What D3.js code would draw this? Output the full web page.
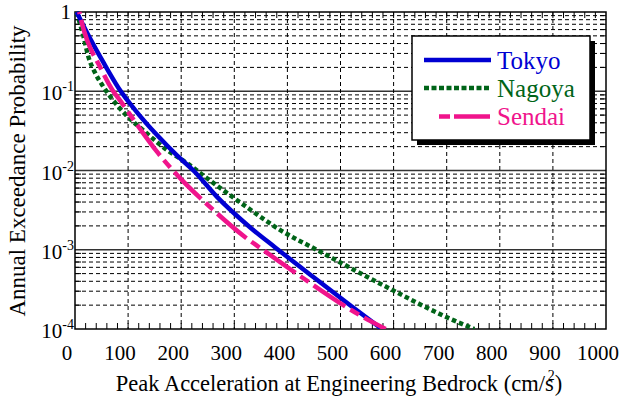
<!DOCTYPE html>
<html><head><meta charset="utf-8">
<script src="https://cdn.jsdelivr.net/npm/d3@7"></script>
<style>body{margin:0;background:#fff}svg{display:block}
text{font-family:"Liberation Serif","Times New Roman",Tinos,"DejaVu Serif","Noto Serif",serif;}</style>
</head><body>
<svg id="chart" width="621" height="405"></svg>
<script>
// ---- data ----
const xTicks = [0,100,200,300,400,500,600,700,800,900,1000];
const yExponents = [0,-1,-2,-3,-4];
const seriesNames = ["Tokyo","Nagoya","Sendai"];
const tokyoX = [3, 28, 53, 82, 116, 154, 192, 223, 267, 330, 377, 450, 520, 578];
const tokyoP = [1, 0.468, 0.234, 0.110, 0.0550, 0.0282, 0.0155, 0.01, 0.00468, 0.00191, 0.00107, 0.000447, 0.000195, 0.0001];
const nagoyaX = [3, 16, 25, 38, 53, 85, 135, 173, 207, 261, 323, 386, 455, 581, 706, 752];
const nagoyaP = [1, 0.490, 0.275, 0.170, 0.115, 0.0603, 0.0295, 0.0182, 0.0129, 0.00692, 0.00347, 0.00178, 0.001, 0.000355, 0.000135, 0.0001];
const sendaiX = [8, 13, 50, 72, 82, 122, 154, 207, 251, 320, 360, 430, 543, 585];
const sendaiP = [1, 0.724, 0.186, 0.1, 0.0813, 0.0339, 0.0174, 0.00692, 0.00363, 0.00145, 0.000933, 0.000437, 0.000141, 0.0001];
const xLabel = "Peak Acceleration at Engineering Bedrock (cm/s";
const yLabel = "Annual Exceedance Probability";

const svg = d3.select("#chart");
const L=75, R=606, T=12, B=329;
const x = d3.scaleLinear().domain([0,1000]).range([L,R]);
const y = d3.scaleLog().domain([1e-4,1]).range([B,T]);

const g = svg.append("g");
const minorY = [];
for (let e=-4; e<0; e++) for (let m=2; m<=9; m++) minorY.push(m*Math.pow(10,e));
g.selectAll(".hmin").data(minorY).enter().append("line")
 .attr("x1",L).attr("x2",R).attr("y1",d=>y(d)).attr("y2",d=>y(d))
 .attr("stroke","#000").attr("stroke-width",1).attr("stroke-dasharray","4,3");
g.selectAll(".tl").data(minorY).enter().append("line")
 .attr("x1",L).attr("x2",L+6).attr("y1",d=>y(d)).attr("y2",d=>y(d)).attr("stroke","#000");
g.selectAll(".tr").data(minorY).enter().append("line")
 .attr("x1",R-6).attr("x2",R).attr("y1",d=>y(d)).attr("y2",d=>y(d)).attr("stroke","#000");
g.selectAll(".hmaj").data(yExponents.slice(1,4)).enter().append("line")
 .attr("x1",L).attr("x2",R).attr("y1",d=>y(Math.pow(10,d))).attr("y2",d=>y(Math.pow(10,d)))
 .attr("stroke","#333").attr("stroke-width",1.3);
g.selectAll(".vmaj").data(xTicks.slice(1,-1)).enter().append("line")
 .attr("x1",d=>x(d)).attr("x2",d=>x(d)).attr("y1",T).attr("y2",B)
 .attr("stroke","#000").attr("stroke-width",1).attr("stroke-dasharray","4,3");
const minorX = d3.range(20,1000,20);
g.selectAll(".xb").data(minorX).enter().append("line")
 .attr("x1",d=>x(d)).attr("x2",d=>x(d)).attr("y1",B).attr("y2",B-6).attr("stroke","#000");
g.selectAll(".xt").data(minorX).enter().append("line")
 .attr("x1",d=>x(d)).attr("x2",d=>x(d)).attr("y1",T).attr("y2",T+6).attr("stroke","#000");
g.append("rect").attr("x",L).attr("y",T).attr("width",R-L).attr("height",B-T)
 .attr("fill","none").attr("stroke","#000").attr("stroke-width",1.5);

svg.append("clipPath").attr("id","clip").append("rect")
 .attr("x",L).attr("y",T-3).attr("width",R-L).attr("height",B-T+3);

const line = d3.line().x(d=>x(d[0])).y(d=>y(d[1])).curve(d3.curveMonotoneX);
const series = [
  {name:"Tokyo", xs:tokyoX, ps:tokyoP, color:"#0000d2", dash:null},
  {name:"Nagoya", xs:nagoyaX, ps:nagoyaP, color:"#006418", dash:"4.5,3"},
  {name:"Sendai", xs:sendaiX, ps:sendaiP, color:"#f0148c", dash:"38,6,10,6"}
];
const cg = svg.append("g").attr("clip-path","url(#clip)");
[series[1], series[0], series[2]].forEach(s=>{
  const pts = s.xs.map((v,i)=>[v,s.ps[i]]);
  cg.append("path").attr("d",line(pts)).attr("fill","none")
   .attr("stroke",s.color).attr("stroke-width",4.5)
   .attr("stroke-dasharray",s.dash).attr("stroke-dashoffset",s.name==="Sendai"?-8:0);
});

svg.selectAll(".xl").data(xTicks).enter().append("text")
 .attr("x",d=>x(d)-8).attr("y",360).attr("text-anchor","middle")
 .attr("font-size",21).text(d=>d);
yExponents.forEach(e=>{
  const yy = y(Math.pow(10,e));
  if (e===0) {
    svg.append("text").attr("x",71).attr("y",yy+7).attr("text-anchor","end")
     .attr("font-size",21).text("1");
  } else {
    const t = svg.append("text").attr("x",74).attr("y",yy+9).attr("text-anchor","end")
     .attr("font-size",21);
    t.append("tspan").text("10");
    t.append("tspan").attr("font-size",14).attr("dy",-9).text(String(e));
  }
});
const xt = svg.append("text").attr("x",339).attr("y",391).attr("text-anchor","middle")
 .attr("font-size",22.5);
xt.append("tspan").text(xLabel);
xt.append("tspan").attr("font-size",14).attr("dx",-6).attr("dy",-11).text("2");
xt.append("tspan").attr("dy",11).text(")");
svg.append("text").attr("transform","translate(25,171) rotate(-90)")
 .attr("text-anchor","middle").attr("font-size",23).text(yLabel);

const lg = svg.append("g");
lg.append("rect").attr("x",417).attr("y",41).attr("width",178).attr("height",104).attr("fill","#000");
lg.append("rect").attr("x",412).attr("y",36).attr("width",178).attr("height",104)
 .attr("fill","#fff").attr("stroke","#000").attr("stroke-width",1.5);
const legY = [60,88,116.5];
const legX1 = [424,424,439];
const legDash = [null,"5,2.5","11,4,36"];
series.forEach((s,i)=>{
  lg.append("line").attr("x1",legX1[i]).attr("x2",491).attr("y1",legY[i]).attr("y2",legY[i])
   .attr("stroke",s.color).attr("stroke-width",4.5).attr("stroke-dasharray",legDash[i]);
  lg.append("text").attr("x",497).attr("y",legY[i]+8.5)
   .attr("font-size",25).attr("fill",s.color).text(seriesNames[i]);
});
</script>
</body></html>
